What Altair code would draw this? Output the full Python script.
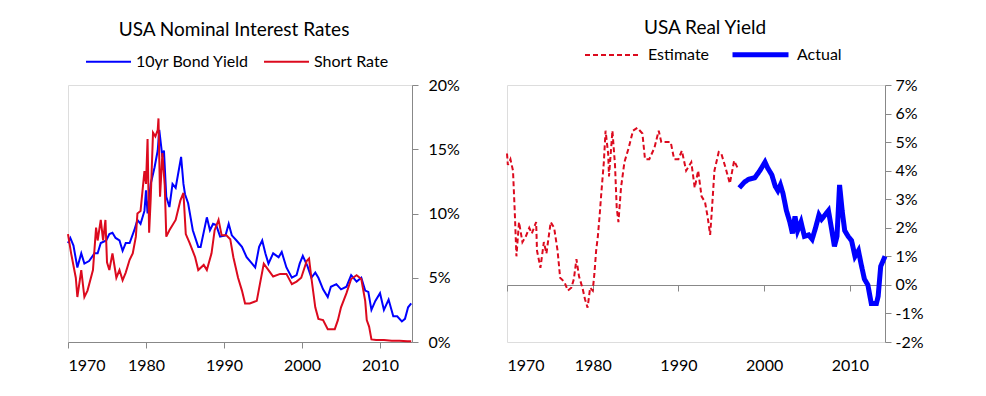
import altair as alt
import pandas as pd

# ---- Left panel: USA nominal interest rates (%) ----
bond_years = [1970.0, 1970.3, 1970.7, 1971.2, 1971.7, 1972.1, 1972.7, 1973.4, 1973.8, 1974.2,
              1974.9, 1975.3, 1975.7, 1976.1, 1976.6, 1977.0, 1977.4, 1977.9, 1978.5, 1978.9,
              1979.3, 1979.8, 1980.0, 1980.2, 1980.6, 1981.1, 1981.5, 1981.7, 1982.1, 1982.3,
              1982.6, 1983.0, 1983.4, 1983.8, 1984.5, 1984.8, 1985.0, 1985.4, 1986.0, 1986.7,
              1987.0, 1987.8, 1988.2, 1988.6, 1989.0, 1989.5, 1990.2, 1990.6, 1991.0, 1991.6,
              1992.3, 1992.9, 1993.6, 1994.0, 1994.5, 1994.9, 1995.3, 1995.7, 1996.3, 1997.0,
              1997.4, 1998.0, 1998.7, 1999.3, 1999.7, 2000.1, 2000.7, 2001.2, 2001.7, 2002.1,
              2002.7, 2003.3, 2003.7, 2004.4, 2005.0, 2005.7, 2006.3, 2007.0, 2007.6, 2008.1,
              2008.5, 2008.9, 2009.4, 2010.0, 2010.5, 2011.1, 2011.7, 2012.2, 2012.8, 2013.2,
              2013.6, 2014.0]
bond_vals = [7.7, 8.1, 7.5, 5.8, 6.9, 6.1, 6.3, 6.9, 6.9, 7.7,
             7.9, 8.4, 8.5, 8.1, 7.9, 7.1, 7.7, 7.7, 8.7, 9.5,
             9.2, 10.2, 11.8, 10.0, 12.3, 13.6, 14.9, 16.5, 14.4, 14.9,
             11.3, 10.5, 12.3, 12.0, 14.4, 12.3, 11.5, 10.8, 8.7, 7.4,
             7.4, 9.7, 8.7, 9.2, 9.1, 8.2, 8.3, 9.2, 8.3, 7.9,
             7.4, 6.6, 6.1, 5.8, 7.4, 7.9, 6.9, 6.1, 6.9, 6.6,
             7.0, 5.8, 5.0, 5.2, 6.1, 6.7, 5.9, 5.0, 5.4, 5.0,
             4.1, 3.5, 4.3, 4.5, 4.1, 4.3, 5.2, 4.7, 5.0, 4.0,
             3.9, 2.5, 3.2, 3.8, 2.5, 3.3, 2.0, 2.0, 1.6, 1.8,
             2.7, 3.0]

short_years = [1970.0, 1970.4, 1971.0, 1971.2, 1971.7, 1972.1, 1972.5, 1973.2, 1973.6, 1973.8,
               1974.2, 1974.5, 1974.8, 1975.0, 1975.3, 1975.7, 1976.2, 1976.6, 1977.0, 1977.4,
               1977.9, 1978.3, 1978.7, 1978.9, 1979.3, 1979.8, 1980.0, 1980.2, 1980.4, 1980.6,
               1980.9, 1981.2, 1981.5, 1981.6, 1981.8, 1982.1, 1982.4, 1982.6, 1983.0, 1983.8,
               1984.4, 1984.8, 1985.1, 1985.6, 1986.3, 1986.7, 1987.4, 1987.8, 1988.4, 1988.8,
               1989.3, 1989.7, 1990.3, 1990.8, 1991.2, 1991.8, 1992.3, 1992.7, 1993.3, 1994.2,
               1994.6, 1995.1, 1995.7, 1996.3, 1997.2, 1998.0, 1998.7, 1999.3, 1999.9, 2000.6,
               2000.9, 2001.2, 2001.7, 2002.1, 2002.7, 2003.3, 2004.2, 2004.6, 2005.0, 2005.7,
               2006.3, 2007.0, 2007.6, 2008.1, 2008.3, 2008.6, 2008.9, 2009.5, 2010.5, 2011.5,
               2012.5, 2013.5, 2014.0]
short_vals = [8.4, 6.9, 5.0, 3.5, 5.6, 3.5, 4.0, 5.6, 8.9, 7.9,
              9.5, 7.9, 9.5, 6.2, 5.6, 6.9, 5.0, 5.6, 4.8, 5.4,
              6.4, 6.9, 8.2, 10.0, 10.2, 13.3, 12.3, 15.8, 8.5, 11.1,
              16.3, 16.0, 16.5, 17.4, 11.3, 14.7, 12.2, 8.2, 8.7, 9.5,
              11.0, 11.6, 8.4, 7.7, 6.6, 5.6, 6.0, 5.6, 6.9, 8.7,
              9.5, 8.3, 8.3, 8.0, 6.6, 5.0, 4.0, 3.0, 3.0, 3.2,
              4.5, 6.1, 5.6, 5.1, 5.3, 5.3, 4.5, 4.7, 5.0, 6.3,
              6.5, 5.0, 2.7, 1.8, 1.7, 1.0, 1.0, 1.7, 2.7, 3.8,
              4.9, 5.2, 4.9, 3.2, 1.7, 1.2, 0.2, 0.15, 0.15, 0.1,
              0.1, 0.05, 0.05]

# ---- Right panel: USA real yield (%) ----
est_years = [1970.0, 1970.1, 1970.4, 1970.7, 1970.9, 1971.1, 1971.4, 1971.8, 1972.2, 1972.6,
             1972.9, 1973.4, 1973.5, 1973.9, 1974.3, 1974.6, 1975.1, 1975.5, 1975.9, 1976.2,
             1976.7, 1977.1, 1977.5, 1977.8, 1978.1, 1978.4, 1978.8, 1979.1, 1979.4, 1979.7,
             1980.0, 1980.2, 1980.4, 1980.6, 1980.8, 1981.0, 1981.3, 1981.5, 1981.8, 1981.9,
             1982.3, 1982.6, 1982.8, 1983.0, 1983.3, 1983.7, 1984.2, 1984.7, 1985.2, 1985.8,
             1986.1, 1986.6, 1987.2, 1987.7, 1988.0, 1988.6, 1989.1, 1989.5, 1990.0, 1990.4,
             1990.9, 1991.5, 1991.9, 1992.3, 1992.7, 1993.1, 1993.4, 1993.7, 1993.9, 1994.2,
             1994.7, 1995.0, 1995.5, 1996.0, 1996.5, 1996.9]
est_vals = [4.6, 4.2, 4.4, 4.0, 2.6, 1.0, 2.2, 1.5, 1.7, 2.0,
            1.8, 2.2, 1.2, 0.6, 1.5, 1.1, 2.2, 2.0, 1.2, 0.25,
            0.1, -0.2, -0.1, 0.2, 0.9, 0.3, -0.1, -0.5, -0.8, -0.1,
            -0.2, 0.4, 1.2, 1.7, 2.4, 3.2, 4.3, 5.4, 4.6, 3.8,
            5.4, 4.2, 2.7, 2.2, 3.4, 4.3, 4.8, 5.4, 5.5, 5.3,
            4.4, 4.4, 4.8, 5.4, 5.0, 5.0, 5.0, 4.4, 4.4, 4.7,
            4.0, 4.3, 3.4, 4.0, 3.1, 2.9, 2.4, 1.75, 2.6, 4.0,
            4.65, 4.6, 4.1, 3.55, 4.35, 4.1]

act_years = [1997.1, 1997.7, 1998.2, 1998.9, 1999.5, 2000.1, 2000.4, 2000.9, 2001.3, 2001.6,
             2001.9, 2002.2, 2002.6, 2003.0, 2003.3, 2003.6, 2003.9, 2004.3, 2004.7, 2005.2,
             2005.6, 2006.0, 2006.4, 2006.7, 2007.1, 2007.5, 2007.9, 2008.2, 2008.5, 2008.8,
             2009.1, 2009.4, 2009.8, 2010.2, 2010.6, 2011.0, 2011.3, 2011.7, 2012.1, 2012.5,
             2013.1, 2013.3, 2013.6, 2014.1]
act_vals = [3.4, 3.6, 3.7, 3.75, 4.0, 4.3, 4.1, 3.85, 3.45, 3.3,
            3.5, 3.2, 2.6, 2.2, 1.8, 2.4, 1.9, 2.2, 1.7, 1.75,
            1.6, 2.0, 2.45, 2.3, 2.45, 2.6, 1.9, 1.35, 1.7, 3.5,
            2.6, 1.9, 1.7, 1.55, 1.0, 1.2, 0.75, 0.2, 0.0, -0.65,
            -0.65, -0.4, 0.65, 1.0]

decades = [1970, 1980, 1990, 2000, 2010]
left_ticks = [0, 5, 10, 15, 20]
right_ticks = [-2, -1, 0, 1, 2, 3, 4, 5, 6, 7]

BLUE = "#0000ff"
RED = "#dc0a1e"
GRAY = "#888888"
FONT = "Lato"

left_df = pd.concat([
    pd.DataFrame({"year": bond_years, "value": bond_vals, "series": "10yr Bond Yield"}),
    pd.DataFrame({"year": short_years, "value": short_vals, "series": "Short Rate"}),
])
right_df = pd.concat([
    pd.DataFrame({"year": est_years, "value": est_vals, "kind": "Estimate"}),
    pd.DataFrame({"year": act_years, "value": act_vals, "kind": "Actual"}),
])

xscale = alt.Scale(domain=[1970, 2014.1], nice=False, zero=False)

axis_common = dict(title=None, grid=False, domainColor=GRAY, tickColor=GRAY, tickSize=6,
                   labelFont=FONT, labelFontSize=16, labelColor="black")

left = alt.Chart(
    left_df,
    title=alt.Title("USA Nominal Interest Rates", font=FONT, fontSize=19, fontWeight="normal",
                    color="black", anchor="middle", frame="group", dx=-6, offset=-2),
).mark_line(strokeWidth=2).encode(
    x=alt.X("year:Q", scale=xscale,
            axis=alt.Axis(values=decades, format="d", labelPadding=9, **axis_common)),
    y=alt.Y("value:Q", scale=alt.Scale(domain=[0, 20], nice=False),
            axis=alt.Axis(orient="right", values=left_ticks, labelExpr="datum.value + '%'",
                          labelPadding=10, labelAlign="left", **axis_common)),
    color=alt.Color("series:N",
                    scale=alt.Scale(domain=["10yr Bond Yield", "Short Rate"], range=[BLUE, RED]),
                    legend=alt.Legend(orient="none", legendX=17, legendY=-47, direction="horizontal",
                                      title=None, symbolType="stroke", symbolSize=2025,
                                      symbolStrokeWidth=2, labelFont=FONT, labelFontSize=16,
                                      labelColor="black", labelOffset=4, columnPadding=10)),
).properties(width=344, height=257)

right_legend = alt.Legend(orient="none", legendX=77, legendY=-61, direction="horizontal",
                          title=None, symbolType="stroke", symbolSize=3136,
                          labelFont=FONT, labelFontSize=16,
                          labelColor="black", labelOffset=6, columnPadding=12)

right = alt.Chart(
    right_df,
    title=alt.Title("USA Real Yield", font=FONT, fontSize=19, fontWeight="normal",
                    color="black", anchor="middle", frame="group", dx=9, offset=-14),
).mark_line().encode(
    x=alt.X("year:Q", scale=xscale,
            axis=alt.Axis(values=decades, format="d", offset=-57, labelPadding=66, **axis_common)),
    y=alt.Y("value:Q", scale=alt.Scale(domain=[-2, 7], nice=False),
            axis=alt.Axis(orient="right", values=right_ticks, labelExpr="datum.value + '%'",
                          labelPadding=4, labelAlign="left", **axis_common)),
    color=alt.Color("kind:N",
                    scale=alt.Scale(domain=["Estimate", "Actual"], range=[RED, BLUE]),
                    legend=right_legend),
    strokeDash=alt.StrokeDash("kind:N",
                              scale=alt.Scale(domain=["Estimate", "Actual"], range=[[5, 3], [1, 0]]),
                              legend=right_legend),
    strokeWidth=alt.StrokeWidth("kind:N",
                                scale=alt.Scale(domain=["Estimate", "Actual"], range=[2, 5]),
                                legend=right_legend),
).properties(width=378, height=257)

chart = alt.hconcat(left, right, spacing=95, bounds="flush").resolve_scale(
    color="independent", strokeDash="independent", strokeWidth="independent"
).resolve_legend(
    color="independent", strokeDash="independent", strokeWidth="independent"
).properties(
    padding={"left": 55, "top": 10, "right": 5, "bottom": 5}
).configure_view(stroke=GRAY, strokeWidth=1).configure(background="white")

chart.save("out.html", embed_options={"renderer": "svg", "actions": False})
